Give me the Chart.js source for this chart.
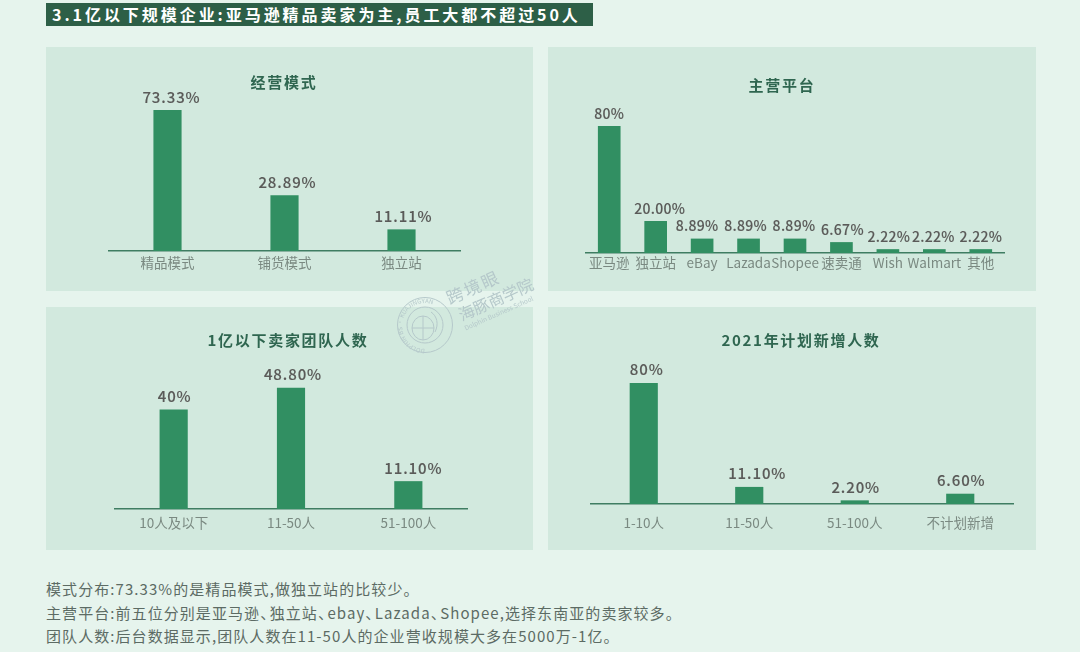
<!DOCTYPE html>
<html lang="zh">
<head>
<meta charset="utf-8">
<script src="https://cdn.jsdelivr.net/npm/chart.js@4"></script>
<style>
    html, body { margin: 0; padding: 0; }
    body { width: 1080px; height: 652px; position: relative; overflow: hidden; background: #e6f4ed;
        font-family: "Noto Sans CJK SC", "Noto Sans", sans-serif; }
    .header { position: absolute; left: 46px; top: 3px; width: 547px; height: 23px; line-height: 23px; background: #2d5f47;
        color: #fff; font-size: 16px; font-weight: 700; letter-spacing: 2.95px; text-indent: 6px; white-space: nowrap; }
    .panel { position: absolute; background: #d2e9de; }
    .panel canvas { position: absolute; left: 0; top: 0; }
    .title { position: absolute; transform: translate(-50%, -50%); color: #2f6650; font-size: 15px; font-weight: 700;
        letter-spacing: 1.7px; white-space: nowrap; }
    .notes { position: absolute; left: 46px; top: 577px; color: #5c6b64; font-size: 15px; line-height: 23.5px;
        letter-spacing: 1.07px; white-space: nowrap; }
    .notes i { font-style: normal; letter-spacing: -5.5px; }
    .mark { position: absolute; left: 395px; top: 270px; width: 150px; height: 90px; pointer-events: none; }
</style>
</head>
<body>
<div class="header">3.1亿以下规模企业:亚马逊精品卖家为主,员工大都不超过50人</div>

<div class="panel" style="left:46px;top:47px;width:487px;height:244px"><canvas id="modeChart"></canvas></div>
<div class="panel" style="left:548px;top:47px;width:488px;height:244px"><canvas id="platformChart"></canvas></div>
<div class="panel" style="left:46px;top:307px;width:487px;height:243px"><canvas id="teamChart"></canvas></div>
<div class="panel" style="left:548px;top:307px;width:488px;height:243px"><canvas id="hireChart"></canvas></div>

<div class="title" style="left:284px;top:81px">经营模式</div>
<div class="title" style="left:782px;top:84px">主营平台</div>
<div class="title" style="left:288px;top:339px">1亿以下卖家团队人数</div>
<div class="title" style="left:801px;top:339px">2021年计划新增人数</div>

<svg class="mark" viewBox="0 0 150 90">
    <defs><path id="ring" d="M30 79a23 23 0 1 1 0.01 0"/></defs>
    <g fill="none" stroke="#b5c8ca" stroke-width="1">
        <circle cx="30" cy="55" r="27.5"/>
        <circle cx="30" cy="55" r="18"/>
        <ellipse cx="28" cy="58" rx="11" ry="12"/>
        <path d="M17 58h22M28 46v24M36 42c6 4 8 12 4 20"/>
    </g>
    <g fill="#b5c8ca" font-family="Noto Sans CJK SC">
        <text font-size="6"><textPath href="#ring">DOLPHIN BS · KUAJINGYAN</textPath></text>
        <g transform="rotate(-24 90 30)">
            <text x="56" y="20" font-size="17" letter-spacing="2">跨境眼</text>
            <text x="60" y="40" font-size="16">海豚商学院</text>
            <text x="60" y="50" font-size="6.5">Dolphin Business School</text>
        </g>
    </g>
</svg>

<div class="notes">
    模式分布:73.33%的是精品模式,做独立站的比较少。<br>
    主营平台:前五位分别是亚马逊<i>、</i>独立站<i>、</i>ebay<i>、</i>Lazada<i>、</i>Shopee,选择东南亚的卖家较多。<br>
    团队人数:后台数据显示,团队人数在11-50人的企业营收规模大多在5000万-1亿。
</div>

<script>
const modeCats = ['精品模式', '铺货模式', '独立站'];
const modeValues = [73.33, 28.89, 11.11];
const modeLabels = ['73.33%', '28.89%', '11.11%'];

const platformCats = ['亚马逊', '独立站', 'eBay', 'Lazada', 'Shopee', '速卖通', 'Wish', 'Walmart', '其他'];
const platformValues = [80, 20, 8.89, 8.89, 8.89, 6.67, 2.22, 2.22, 2.22];
const platformLabels = ['80%', '20.00%', '8.89%', '8.89%', '8.89%', '6.67%', '2.22%', '2.22%', '2.22%'];

const teamCats = ['10人及以下', '11-50人', '51-100人'];
const teamValues = [40, 48.8, 11.1];
const teamLabels = ['40%', '48.80%', '11.10%'];

const hireCats = ['1-10人', '11-50人', '51-100人', '不计划新增'];
const hireValues = [80, 11.1, 2.2, 6.6];
const hireLabels = ['80%', '11.10%', '2.20%', '6.60%'];

// the value labels sit a little right of the bars in the original
const valueLabelPlugin = {
    id: 'valueLabels',
    afterDatasetsDraw(chart, args, opts) {
        const ctx = chart.ctx;
        const meta = chart.getDatasetMeta(0);
        ctx.save();
        ctx.font = '500 ' + opts.size + 'px "Noto Sans CJK SC"';
        ctx.letterSpacing = opts.spacing;
        ctx.fillStyle = '#5a5a58';
        ctx.strokeStyle = '#5a5a58';
        ctx.lineWidth = 0.12; // slightly heavier, like the original
        ctx.textAlign = 'center';
        ctx.textBaseline = 'bottom';
        meta.data.forEach((bar, i) => {
            const x = bar.x + (opts.nudge[i] || 0);
            ctx.fillText(opts.labels[i], x, bar.y - 6);
            ctx.strokeText(opts.labels[i], x, bar.y - 6);
        });
        ctx.restore();
    }
};

function drawBars(id, cats, values, labels, cfg) {
    const canvas = document.getElementById(id);
    const parent = canvas.parentElement;
    canvas.style.width = parent.clientWidth + 'px';
    canvas.style.height = parent.clientHeight + 'px';
    new Chart(canvas, {
        type: 'bar',
        plugins: [valueLabelPlugin],
        data: {
            labels: cats,
            datasets: [{
                data: values,
                backgroundColor: '#318f62',
                barThickness: cfg.barWidth
            }]
        },
        options: {
            responsive: false,
            animation: false,
            layout: { padding: { left: cfg.left, right: cfg.right, top: 0, bottom: 0 } },
            plugins: {
                legend: { display: false },
                tooltip: { enabled: false },
                valueLabels: { labels: labels, nudge: cfg.nudge, size: cfg.labelSize || 15, spacing: cfg.labelSpacing || '0.9px' }
            },
            scales: {
                x: {
                    afterFit: (scale) => { scale.height = cfg.axisHeight; },
                    grid: { display: false, drawTicks: false },
                    border: { color: '#3f7d62', width: 1.5 },
                    ticks: { color: '#7a8981', padding: cfg.tickPad, maxRotation: 0, autoSkip: false,
                        font: { family: '"Noto Sans CJK SC"', size: 13.5 } }
                },
                y: { display: false, min: 0, max: cfg.yMax }
            }
        }
    });
}

drawBars('modeChart', modeCats, modeValues, modeLabels,
    { left: 63, right: 73, barWidth: 27.5, axisHeight: 40, yMax: 106.4, tickPad: 4, nudge: [4, 3, 2] });
drawBars('platformChart', platformCats, platformValues, platformLabels,
    { left: 38, right: 32, barWidth: 22, axisHeight: 38, yMax: 130.2, tickPad: 2, labelSize: 14, labelSpacing: '0.3px',
      nudge: [0, 4, -5, -3, -1, 1, 1, -1, 0] });
drawBars('teamChart', teamCats, teamValues, teamLabels,
    { left: 69, right: 66, barWidth: 27.5, axisHeight: 41, yMax: 81.5, tickPad: 6, nudge: [1, 2, 5] });
drawBars('hireChart', hireCats, hireValues, hireLabels,
    { left: 43, right: 23, barWidth: 27.5, axisHeight: 46, yMax: 130.5, tickPad: 11, nudge: [3, 8, 1, 1] });
</script>
</body>
</html>
